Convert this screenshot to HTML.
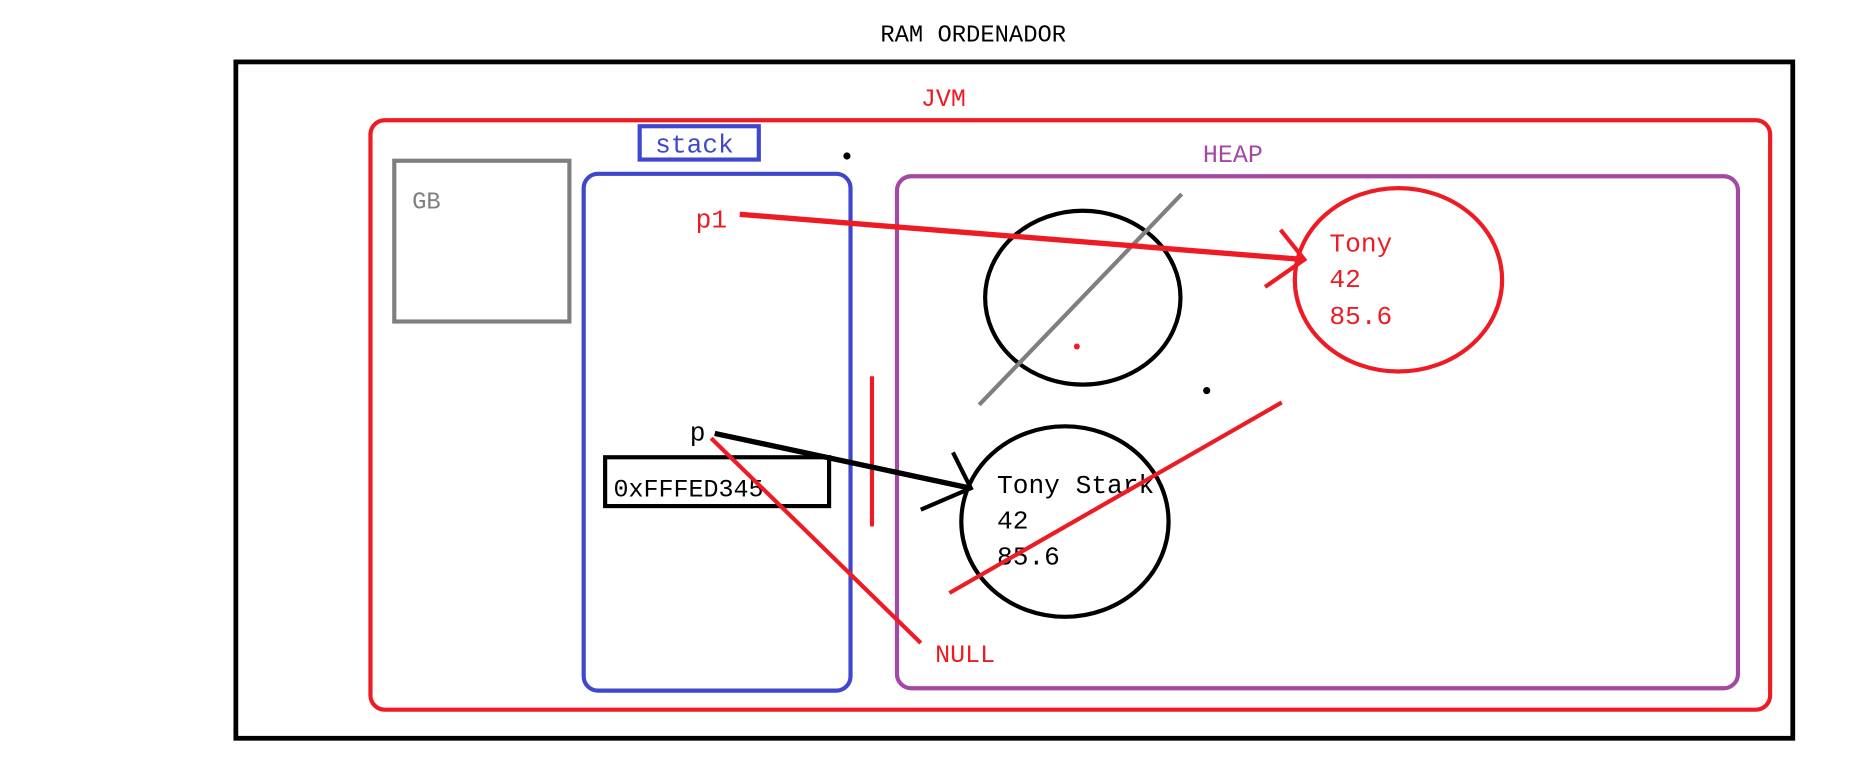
<!DOCTYPE html>
<html><head><meta charset="utf-8"><style>
html,body{margin:0;padding:0;background:#fff;width:1869px;height:774px;overflow:hidden}
svg{display:block}
text{font-family:"Liberation Mono","DejaVu Sans Mono",monospace}
</style></head><body>
<svg width="1869" height="774" viewBox="0 0 1569 650" preserveAspectRatio="none" xmlns="http://www.w3.org/2000/svg">
<rect width="1569" height="650" fill="#fff"/>
<text x="817" y="35" font-size="20" text-anchor="middle" fill="#000">RAM ORDENADOR</text>
<rect x="198" y="52" width="1307" height="568" fill="none" stroke="#000" stroke-width="4"/>
<text x="792" y="89" font-size="21" text-anchor="middle" fill="#ed1c24">JVM</text>
<rect x="311" y="101" width="1175" height="495" rx="12" fill="none" stroke="#ed1c24" stroke-width="3.5"/>
<rect x="537" y="106" width="100" height="28" fill="none" stroke="#3f48cc" stroke-width="3.5"/>
<text x="583" y="128" font-size="22" text-anchor="middle" fill="#3f48cc">stack</text>
<circle cx="711" cy="131" r="3" fill="#000"/>
<rect x="331" y="135" width="147" height="135" fill="none" stroke="#7f7f7f" stroke-width="3.5"/>
<text x="346" y="175" font-size="20" fill="#7f7f7f">GB</text>
<rect x="490" y="146" width="224" height="434" rx="12" fill="none" stroke="#3f48cc" stroke-width="3.5"/>
<rect x="753" y="148" width="706" height="430" rx="12" fill="none" stroke="#a349a4" stroke-width="3.5"/>
<text x="1035" y="136" font-size="21" text-anchor="middle" fill="#a349a4">HEAP</text>
<text x="584" y="191" font-size="22" fill="#ed1c24">p1</text>
<ellipse cx="909" cy="250" rx="82" ry="73" fill="none" stroke="#000" stroke-width="3.5"/>
<line x1="992" y1="163" x2="822" y2="340" stroke="#7f7f7f" stroke-width="3.5"/>
<circle cx="904" cy="291" r="2.5" fill="#ed1c24"/>
<line x1="621" y1="180" x2="1095" y2="218" stroke="#ed1c24" stroke-width="4.5"/>
<polyline points="1075,193 1095,218 1062,241" fill="none" stroke="#ed1c24" stroke-width="3.5"/>
<ellipse cx="1174" cy="235" rx="87" ry="77" fill="none" stroke="#ed1c24" stroke-width="3.5"/>
<text x="1116" y="211" font-size="22" fill="#ed1c24">Tony</text>
<text x="1116" y="241" font-size="22" fill="#ed1c24">42</text>
<text x="1116" y="272" font-size="22" fill="#ed1c24">85.6</text>
<circle cx="1013" cy="328" r="3" fill="#000"/>
<text x="579" y="370" font-size="22" fill="#000">p</text>
<rect x="508" y="384" width="188" height="41" fill="none" stroke="#000" stroke-width="3.5"/>
<text x="515" y="417" font-size="21" fill="#000">0xFFFED345</text>
<line x1="732" y1="316" x2="732" y2="442" stroke="#ed1c24" stroke-width="3.5"/>
<ellipse cx="894" cy="438" rx="87" ry="80" fill="none" stroke="#000" stroke-width="3.5"/>
<text x="837" y="414" font-size="22" fill="#000">Tony Stark</text>
<text x="837" y="444" font-size="22" fill="#000">42</text>
<text x="837" y="474" font-size="22" fill="#000">85.6</text>
<line x1="600" y1="364" x2="815" y2="410" stroke="#000" stroke-width="4.5"/>
<polyline points="800,380 815,410 773,428" fill="none" stroke="#000" stroke-width="3.5"/>
<line x1="1076" y1="338" x2="797" y2="498" stroke="#ed1c24" stroke-width="3.5"/>
<line x1="597" y1="368" x2="773" y2="540" stroke="#ed1c24" stroke-width="3.5"/>
<text x="785" y="556" font-size="21" fill="#ed1c24">NULL</text>
</svg>
</body></html>
